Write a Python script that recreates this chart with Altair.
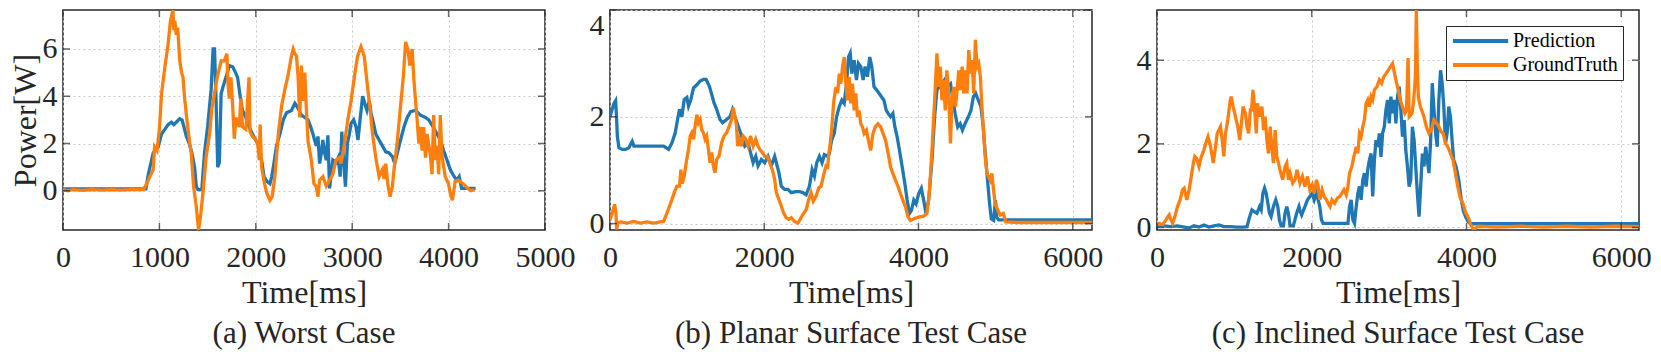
import altair as alt
import pandas as pd

FONT = "Liberation Serif"
INK = "#262626"
SERIES = ["Prediction", "GroundTruth"]
COLORS = ["#1f77b4", "#ff7f0e"]

# ---------------- (a) Worst Case ----------------
a_pred_t = [0, 200, 400, 600, 860, 885, 936, 988, 1022, 1056, 1090, 1125, 1150, 1175, 1211, 1235, 1255, 1280, 1310, 1337,
            1365, 1383, 1400, 1440, 1468, 1500, 1537, 1557, 1572, 1588, 1605, 1622, 1640, 1660, 1691, 1725, 1760, 1790,
            1811, 1838, 1862, 1897, 1931, 1965, 2000, 2030, 2060, 2085, 2115, 2147, 2165, 2182, 2215, 2250, 2285, 2319,
            2370, 2405, 2430, 2450, 2473, 2508, 2542, 2570, 2593, 2610, 2628, 2645, 2662, 2680, 2696, 2714, 2731, 2748,
            2765, 2782, 2799, 2833, 2855, 2875, 2892, 2910, 2930, 2950, 2971, 2988, 3015, 3040, 3060, 3084, 3108, 3130,
            3153, 3177, 3195, 3221, 3245, 3279, 3314, 3348, 3383, 3417, 3441, 3468, 3502, 3537, 3571, 3605, 3657, 3708,
            3760, 3794, 3840, 3880, 3914, 3948, 3983, 4017, 4050, 4085, 4110, 4135, 4200, 4280]
a_pred_v = [0.08, 0.08, 0.08, 0.08, 0.08, 0.7, 1.6, 1.86, 2.4, 2.6, 2.8, 2.9, 2.8, 2.9, 3.05, 3.0, 2.7, 2.3, 2.0, 1.6,
            1.0, 0.17, 0.05, 0.05, 1.6, 2.7, 4.3, 6.0, 6.0, 3.8, 1.0, 1.2, 4.1, 4.4, 4.8, 5.3, 5.25, 5.0,
            4.8, 4.0, 3.4, 3.1, 2.7, 2.4, 2.15, 1.9, 1.3, 0.6, 0.4, 0.3, 0.6, 1.0, 1.9, 2.4, 3.0, 3.3,
            3.4, 3.7, 3.55, 3.4, 3.2, 3.1, 3.0, 2.7, 2.4, 2.15, 1.9, 2.3, 1.15, 1.6, 2.15, 1.6, 1.3, 2.35,
            0.1, 0.7, 1.3, 1.2, 1.4, 0.6, 2.5, 1.3, 0.17, 2.0, 2.4, 2.85, 3.0, 2.7, 2.15, 3.1, 4.0, 3.7,
            3.4, 3.8, 3.3, 2.85, 2.4, 2.15, 1.9, 1.65, 1.6, 1.45, 1.15, 1.6, 2.15, 2.7, 3.1, 3.35, 3.4, 3.2,
            3.1, 3.0, 2.7, 2.4, 2.15, 1.7, 1.3, 0.9, 0.65, 0.45, 0.6, 0.1, 0.1, 0.1]
a_gt_t = [0, 50, 100, 200, 300, 400, 500, 600, 700, 833, 870, 900, 936, 950, 975, 1000, 1022, 1056, 1090, 1115,
          1140, 1150, 1160, 1175, 1190, 1211, 1230, 1245, 1262, 1280, 1297, 1315, 1330, 1355, 1383, 1406, 1430, 1458,
          1485, 1520, 1545, 1571, 1600, 1640, 1674, 1700, 1712, 1725, 1742, 1760, 1777, 1794, 1828, 1845, 1862, 1897,
          1930, 1940, 1965, 2000, 2020, 2035, 2045, 2060, 2090, 2115, 2147, 2170, 2200, 2233, 2268, 2302, 2330, 2353,
          2370, 2388, 2405, 2422, 2439, 2456, 2473, 2490, 2508, 2525, 2542, 2559, 2576, 2603, 2628, 2645, 2662, 2696,
          2731, 2765, 2799, 2833, 2868, 2885, 2920, 2954, 2988, 3022, 3056, 3091, 3125, 3159, 3187, 3211, 3245, 3279,
          3314, 3331, 3348, 3372, 3393, 3417, 3434, 3468, 3502, 3530, 3554, 3578, 3598, 3622, 3640, 3657, 3674, 3691,
          3708, 3725, 3742, 3760, 3777, 3811, 3828, 3845, 3862, 3880, 3897, 3914, 3931, 3965, 3999, 4017, 4040, 4068,
          4100, 4150, 4200, 4230, 4270]
a_gt_v = [0.05, 0.0, 0.05, 0.02, 0.05, 0.03, 0.05, 0.03, 0.05, 0.05, 0.3, 0.6, 0.9, 1.86, 1.7, 2.6, 4.1, 5.2, 6.2, 7.2,
          7.65, 6.8, 7.2, 6.6, 6.9, 5.5, 5.0, 4.8, 3.9, 3.2, 2.6, 2.0, 1.6, 0.17, -0.68, -1.66, -0.96, 0.17,
          1.44, 2.4, 3.5, 4.1, 4.8, 5.5, 5.5, 5.8, 4.5, 3.9, 4.8, 3.6, 2.2, 3.1, 2.7, 3.9, 2.7, 2.6,
          4.8, 2.5, 2.3, 2.15, 2.0, 1.3, 2.8, 1.0, 0.3, -0.1, -0.4, -0.25, 0.7, 2.4, 3.6, 4.3, 4.8, 5.3,
          5.7, 6.0, 5.8, 5.7, 4.8, 3.1, 5.3, 3.8, 5.0, 3.4, 2.1, 1.7, 1.3, 0.3, 0.17, -0.25, 0.45, 0.6,
          0.2, 0.45, 0.7, 1.3, 1.4, 1.15, 2.0, 3.0, 3.8, 4.8, 5.7, 6.1, 5.7, 4.4, 3.4, 2.4, 1.4, 0.6,
          0.9, 0.5, 1.15, 0.2, -0.25, 0.2, 0.9, 2.1, 3.6, 4.8, 6.3, 6.0, 5.3, 6.0, 4.7, 3.8, 3.0, 2.0,
          2.7, 1.7, 2.7, 1.4, 2.4, 1.5, 0.7, 3.2, 1.3, 1.9, 0.7, 3.2, 1.5, 0.6, 0.3, -0.1, -0.4, 0.4,
          0.45, 0.3, 0.1, 0.0, 0.05]

# ---------------- (b) Planar Surface Test Case ----------------
b_pred_t = [0, 30, 52, 73, 86, 95, 116, 159, 202, 245, 288, 310, 352, 438, 524, 610, 696, 760, 803, 846,
            876, 902, 932, 962, 997, 1018, 1048, 1083, 1126, 1168, 1211, 1246, 1289, 1319, 1349, 1383, 1426, 1460,
            1512, 1555, 1589, 1620, 1663, 1706, 1749, 1792, 1822, 1856, 1890, 1920, 1963, 2006, 2049, 2092, 2135,
            2157, 2191, 2221, 2264, 2307, 2350, 2406, 2457, 2500, 2543, 2586, 2621, 2651, 2681, 2715, 2750, 2780,
            2823, 2844, 2873, 2908, 2938, 2973, 3007, 3037, 3067, 3093, 3115, 3136, 3166, 3196, 3222, 3252, 3282,
            3308, 3338, 3368, 3394, 3424, 3458, 3488, 3522, 3552, 3582, 3608, 3638, 3668, 3694, 3724, 3754, 3789,
            3823, 3853, 3883, 3909, 3939, 3969, 4003, 4037, 4067, 4097, 4132, 4175, 4209, 4239, 4269, 4304, 4338,
            4368, 4415, 4449, 4475, 4509, 4540, 4570, 4604, 4647, 4681, 4711, 4741, 4776, 4810, 4840, 4862, 4892,
            4922, 4944, 4975, 4998, 5015, 5040, 5200, 5500, 5800, 6100, 6250]
b_pred_v = [2.0, 2.15, 2.25, 2.3, 1.95, 1.64, 1.42, 1.39, 1.39, 1.42, 1.54, 1.45, 1.45, 1.45, 1.45, 1.45, 1.45, 1.39, 1.51, 1.7,
            1.95, 2.14, 2.0, 2.32, 2.36, 2.2, 2.32, 2.54, 2.6, 2.67, 2.7, 2.7, 2.57, 2.42, 2.26, 2.14, 1.95, 1.89,
            1.95, 2.0, 2.14, 2.0, 1.82, 1.64, 1.45, 1.5, 1.33, 1.14, 1.26, 1.08, 1.2, 1.14, 1.26, 1.08, 1.26,
            1.14, 0.95, 0.7, 0.64, 0.64, 0.58, 0.6, 0.6, 0.58, 0.54, 0.7, 1.01, 0.89, 1.14, 1.26, 1.14, 1.29,
            1.26, 1.31, 1.56, 1.69, 2.0, 2.19, 2.31, 2.25, 2.62, 3.12, 3.19, 2.81, 3.06, 2.69, 3.0, 2.94, 2.69,
            2.94, 2.75, 3.12, 2.94, 2.56, 2.5, 2.44, 2.37, 2.31, 2.12, 2.06, 2.0, 2.06, 1.81, 1.62, 1.37, 1.06,
            0.75, 0.44, 0.19, 0.25, 0.44, 0.37, 0.56, 0.66, 0.44, 0.19, 0.44, 1.19, 2.0, 2.5, 2.56, 2.62, 2.69,
            2.56, 2.62, 2.31, 2.06, 1.81, 1.87, 1.75, 1.87, 2.0, 2.12, 2.37, 2.44, 2.31, 2.19, 1.81, 1.37, 0.87,
            0.37, 0.09, 0.06, 0.44, 0.12, 0.07, 0.07, 0.07, 0.07, 0.07, 0.07]
b_gt_t = [0, 30, 60, 77, 86, 103, 137, 223, 309, 395, 481, 567, 653, 696, 739, 773, 803, 833, 868, 902,
          919, 936, 962, 988, 1018, 1040, 1061, 1083, 1104, 1126, 1147, 1168, 1190, 1211, 1233, 1254, 1276, 1297,
          1319, 1340, 1362, 1383, 1413, 1447, 1478, 1512, 1547, 1577, 1598, 1620, 1641, 1654, 1676, 1706, 1727,
          1761, 1792, 1822, 1856, 1890, 1920, 1942, 1976, 2006, 2036, 2071, 2105, 2135, 2157, 2191, 2221, 2251,
          2285, 2320, 2350, 2393, 2436, 2466, 2500, 2543, 2577, 2607, 2637, 2672, 2707, 2737, 2767, 2801, 2822,
          2835, 2855, 2873, 2903, 2930, 2951, 2973, 2994, 3015, 3037, 3058, 3080, 3101, 3123, 3144, 3166, 3187,
          3209, 3230, 3252, 3273, 3295, 3325, 3350, 3380, 3410, 3441, 3475, 3510, 3540, 3573, 3608, 3638, 3668,
          3703, 3737, 3767, 3797, 3832, 3866, 3896, 3939, 4003, 4067, 4110, 4140, 4175, 4209, 4239, 4260, 4282,
          4304, 4325, 4347, 4368, 4390, 4415, 4437, 4458, 4480, 4501, 4523, 4544, 4566, 4587, 4609, 4630, 4652,
          4673, 4695, 4716, 4738, 4759, 4780, 4802, 4823, 4845, 4866, 4888, 4910, 4931, 4952, 4974, 4995, 5030,
          5060, 5100, 5133, 5300, 5600, 5900, 6250]
b_gt_v = [0.07, 0.2, 0.36, 0.2, -0.11, 0.01, 0.03, 0.01, 0.04, 0.01, 0.03, 0.01, 0.03, 0.04, 0.2, 0.33, 0.45, 0.58, 0.7, 0.7,
          1.01, 0.75, 0.89, 1.14, 1.39, 1.64, 1.7, 1.58, 1.83, 2.04, 1.89, 1.95, 1.76, 1.7, 1.58, 1.64, 1.39, 1.14,
          1.33, 1.08, 0.95, 1.2, 1.26, 1.51, 1.64, 1.7, 1.83, 1.95, 2.17, 2.01, 1.83, 1.45, 1.58, 1.45, 1.64,
          1.58, 1.45, 1.64, 1.45, 1.58, 1.45, 1.39, 1.33, 1.26, 1.26, 1.14, 1.01, 0.83, 0.58, 0.45, 0.33, 0.2,
          0.11, 0.08, 0.11, 0.04, 0.01, 0.08, 0.17, 0.26, 0.45, 0.58, 0.42, 0.51, 0.67, 0.7, 0.89, 1.08, 1.06,
          1.26, 1.5, 1.75, 2.31, 2.56, 2.44, 2.81, 2.62, 2.94, 3.12, 2.62, 2.31, 2.75, 2.25, 2.62, 2.12, 2.44,
          2.0, 2.12, 1.87, 1.81, 1.69, 1.75, 1.56, 1.37, 1.69, 1.81, 1.87, 1.81, 1.69, 1.56, 1.31, 1.06, 0.94,
          0.81, 0.69, 0.56, 0.44, 0.31, 0.12, 0.06, 0.09, 0.12, 0.14, 0.19, 0.56, 1.37, 2.31, 3.19, 2.56, 2.94,
          2.31, 2.69, 2.12, 2.87, 2.44, 1.5, 2.37, 2.56, 2.19, 2.5, 2.87, 2.5, 2.94, 2.44, 2.87, 2.44, 3.25,
          2.81, 3.06, 2.44, 3.44, 2.94, 3.0, 2.75, 2.19, 1.69, 1.25, 0.94, 0.87, 0.81, 0.94, 0.62, 0.37, 0.25,
          0.16, 0.19, 0.03, 0.02, 0.02, 0.02, 0.02]

# ---------------- (c) Inclined Surface Test Case ----------------
c_pred_t = [0, 94, 180, 265, 351, 415, 479, 543, 607, 671, 736, 800, 864, 950, 1035, 1121, 1163, 1198, 1227, 1257,
            1292, 1326, 1347, 1369, 1390, 1411, 1433, 1454, 1475, 1505, 1535, 1561, 1582, 1604, 1634, 1655, 1677,
            1698, 1720, 1762, 1805, 1835, 1848, 1870, 1890, 1912, 1945, 1976, 2006, 2032, 2062, 2083, 2104, 2126,
            2147, 2211, 2297, 2383, 2468, 2489, 2510, 2532, 2553, 2575, 2596, 2617, 2638, 2660, 2681, 2703, 2724,
            2745, 2767, 2788, 2810, 2830, 2852, 2874, 2895, 2916, 2938, 2959, 2980, 3002, 3023, 3045, 3066, 3088,
            3109, 3130, 3152, 3173, 3195, 3216, 3237, 3259, 3280, 3301, 3323, 3344, 3365, 3387, 3408, 3430, 3451,
            3473, 3494, 3515, 3537, 3558, 3580, 3601, 3622, 3643, 3665, 3686, 3707, 3729, 3750, 3771, 3793, 3814,
            3835, 3865, 3900, 3930, 3960, 3990, 4020, 4050, 4300, 4800, 5300, 5800, 6230]
c_pred_v = [0.06, 0.04, 0.02, 0.04, 0.01, -0.01, 0.04, 0.01, 0.06, 0.01, 0.04, 0.06, 0.02, 0.02, 0.01, 0.01, 0.02, 0.26, 0.42, 0.38,
            0.34, 0.5, 0.42, 0.82, 0.94, 0.82, 0.58, 0.34, 0.26, 0.5, 0.66, 0.5, 0.18, 0.04, 0.04, 0.34, 0.5,
            0.34, 0.04, 0.04, 0.34, 0.5, 0.4, 0.3, 0.4, 0.5, 0.66, 0.74, 0.82, 0.66, 0.82, 0.66, 0.5, 0.18,
            0.1, 0.1, 0.1, 0.1, 0.1, 0.5, 0.66, 0.18, 0.1, 0.5, 0.82, 0.98, 0.66, 1.14, 1.3, 0.98, 1.38,
            1.61, 1.77, 0.74, 1.61, 2.09, 1.93, 2.25, 1.69, 2.25, 2.41, 2.81, 3.05, 2.49, 3.13, 2.73, 3.05, 2.49,
            3.13, 3.37, 2.81, 2.17, 2.57, 1.85, 1.46, 0.98, 1.14, 2.41, 2.09, 1.46, 0.82, 0.26, 0.98, 1.77, 1.46,
            1.93, 1.61, 1.3, 2.09, 3.45, 2.81, 2.25, 1.93, 3.05, 3.76, 3.45, 2.89, 2.01, 2.25, 2.89, 2.65, 2.09,
            1.61, 1.46, 1.14, 0.7, 0.4, 0.25, 0.15, 0.09, 0.09, 0.09, 0.09, 0.09, 0.09]
c_gt_t = [0, 30, 73, 115, 158, 180, 201, 231, 265, 299, 329, 351, 385, 415, 436, 470, 488, 513, 543, 573,
          607, 629, 659, 693, 727, 757, 778, 800, 821, 843, 864, 885, 915, 941, 958, 984, 1014, 1044, 1069,
          1087, 1112, 1142, 1163, 1185, 1206, 1223, 1240, 1257, 1283, 1300, 1326, 1356, 1377, 1398, 1420, 1441,
          1463, 1484, 1505, 1527, 1548, 1570, 1600, 1625, 1655, 1677, 1698, 1720, 1754, 1784, 1810, 1848, 1880,
          1912, 1945, 1976, 2006, 2032, 2062, 2083, 2104, 2134, 2160, 2190, 2211, 2237, 2262, 2296, 2331, 2361,
          2391, 2416, 2446, 2468, 2489, 2519, 2544, 2575, 2596, 2617, 2638, 2660, 2681, 2703, 2724, 2745, 2767,
          2788, 2810, 2844, 2874, 2904, 2930, 2959, 2990, 3015, 3045, 3066, 3088, 3118, 3143, 3173, 3203, 3225,
          3245, 3260, 3297, 3318, 3340, 3352, 3365, 3378, 3404, 3451, 3481, 3515, 3545, 3579, 3613, 3643, 3673,
          3699, 3729, 3759, 3793, 3827, 3857, 3887, 3920, 3950, 3990, 4020, 4060, 4093, 4150, 4400, 4700, 5000,
          5300, 5600, 5900, 6230]
c_gt_v = [0.06, 0.1, 0.06, 0.18, 0.3, 0.18, 0.1, 0.26, 0.5, 0.66, 0.9, 0.94, 0.66, 0.9, 1.14, 1.54, 1.7, 1.65, 1.46, 1.7,
          1.85, 2.01, 2.17, 1.93, 1.54, 1.93, 2.25, 2.33, 2.41, 2.09, 1.7, 2.25, 2.57, 2.97, 3.13, 2.89, 2.65, 2.41, 2.09,
          2.41, 2.89, 2.73, 2.41, 2.25, 2.81, 2.81, 3.29, 2.97, 2.25, 2.97, 2.65, 2.89, 2.33, 2.65, 2.09, 1.77,
          2.41, 1.93, 1.54, 2.33, 1.7, 1.54, 1.3, 1.14, 1.46, 1.54, 1.14, 1.3, 1.06, 1.14, 1.38, 1.06, 1.22,
          0.98, 1.22, 0.9, 1.02, 0.82, 1.14, 0.98, 0.66, 0.9, 0.74, 0.66, 0.58, 0.5, 0.66, 0.58, 0.7, 0.74,
          0.82, 0.9, 0.78, 0.98, 1.3, 1.46, 1.69, 1.93, 1.77, 2.25, 2.17, 2.41, 2.57, 2.97, 3.05, 2.89, 3.13,
          3.05, 3.29, 3.37, 3.53, 3.45, 3.6, 3.68, 3.76, 3.84, 3.92, 3.72, 3.53, 3.29, 3.05, 2.89, 2.73, 2.81,
          4.05, 2.65, 2.73, 3.05, 3.6, 5.2, 3.84, 3.13, 2.89, 2.65, 2.41, 2.25, 2.33, 2.57, 2.49, 2.41, 2.29,
          2.25, 2.01, 1.93, 1.77, 1.61, 1.3, 0.98, 0.7, 0.6, 0.35, 0.25, 0.05, -0.05, 0.03, 0.01, 0.03, 0.01,
          0.03, 0.01, 0.03, 0.02]

# axis ticks / domains
a_xticks = [0, 1000, 2000, 3000, 4000, 5000]
a_yticks = [0, 2, 4, 6]
bc_xticks = [0, 2000, 4000, 6000]
bc_yticks = [0, 2, 4]
a_xdomain = [0, 5000]
a_ydomain = [-1.66, 7.65]
b_xdomain = [0, 6250]
b_ydomain = [-0.12, 4.0]
c_xdomain = [0, 6230]
c_ydomain = [-0.06, 5.2]

W = 482
H = 220


def panel(pt, pv, gt, gv, xdom, ydom, xticks, yticks, ytitle, caption, legend, flush_y):
    pred = pd.DataFrame({"t": pt, "v": pv, "series": SERIES[0]})
    truth = pd.DataFrame({"t": gt, "v": gv, "series": SERIES[1]})
    xs = alt.Scale(domain=xdom, nice=False, zero=False)
    ys = alt.Scale(domain=ydom, nice=False, zero=False)
    x = alt.X("t:Q", scale=xs, axis=alt.Axis(values=xticks, title="Time[ms]", format="d"))
    if ytitle:
        yaxis = alt.Axis(values=yticks, title=ytitle, format="d", labelFlush=flush_y)
    else:
        yaxis = alt.Axis(values=yticks, title=None, format="d", labelFlush=flush_y)
    y = alt.Y("v:Q", scale=ys, axis=yaxis)
    if legend is None:
        color = alt.Color("series:N", scale=alt.Scale(domain=SERIES, range=COLORS), legend=None)
    else:
        color = alt.Color("series:N", scale=alt.Scale(domain=SERIES, range=COLORS), legend=legend)
    l1 = alt.Chart(pred).mark_line(strokeWidth=3.3, clip=True).encode(x=x, y=y, color=color)
    l2 = alt.Chart(truth).mark_line(strokeWidth=3.3, clip=True).encode(x=x, y=y, color=color)
    ydf = pd.DataFrame({"v": yticks})
    xdf = pd.DataFrame({"t": xticks})
    tk = dict(color=INK, thickness=1.5, size=7)
    yl = alt.Chart(ydf).mark_tick(**tk).encode(y=alt.Y("v:Q", scale=ys), x=alt.value(3.5))
    yr = alt.Chart(ydf).mark_tick(**tk).encode(y=alt.Y("v:Q", scale=ys), x=alt.value(W - 3.5))
    xb = alt.Chart(xdf).mark_tick(**tk).encode(x=alt.X("t:Q", scale=xs), y=alt.value(H - 3.5))
    xt = alt.Chart(xdf).mark_tick(**tk).encode(x=alt.X("t:Q", scale=xs), y=alt.value(3.5))
    return alt.layer(l1, l2, yl, yr, xb, xt).properties(
        width=W, height=H,
        title=alt.TitleParams(text=caption, orient="bottom", anchor="middle"),
    )


leg = alt.Legend(
    title=None, orient="none", legendX=289, legendY=16,
    symbolType="M-1,0H5.9", symbolStrokeWidth=4, symbolSize=256,
    labelFont=FONT, labelFontSize=20, labelColor="black",
    strokeColor=INK, fillColor="white", padding=5, rowPadding=4, labelOffset=42,
)

pa = panel(a_pred_t, a_pred_v, a_gt_t, a_gt_v, a_xdomain, a_ydomain, a_xticks, a_yticks,
           "Power[W]", "(a) Worst Case", None, False)
pb = panel(b_pred_t, b_pred_v, b_gt_t, b_gt_v, b_xdomain, b_ydomain, bc_xticks, bc_yticks,
           "", "(b) Planar Surface Test Case", None, True)
pc = panel(c_pred_t, c_pred_v, c_gt_t, c_gt_v, c_xdomain, c_ydomain, bc_xticks, bc_yticks,
           "", "(c) Inclined Surface Test Case", leg, False)

chart = alt.hconcat(pa, pb, pc, spacing=65, bounds="flush").resolve_scale(
    color="independent"
).properties(
    padding={"left": 0, "top": 0, "right": 0, "bottom": 0}
).configure_axis(
    labelFont=FONT, labelFontSize=30, labelColor=INK,
    titleFont=FONT, titleFontSize=32, titleFontWeight="normal", titleColor=INK,
    domain=False, ticks=False, grid=True, gridColor="#c8c8c8", gridDash=[2, 3], gridWidth=1,
).configure_axisX(
    labelPadding=12, titlePadding=5, labelFlush=False,
).configure_axisY(
    labelPadding=6, titlePadding=0,
).configure_view(
    stroke=INK, strokeWidth=1.5,
).configure_legend(
    labelFont=FONT, labelFontSize=20, labelColor="black",
).configure_title(
    font=FONT, fontSize=31, fontWeight="normal", color=INK, offset=11,
)

chart.save("out.html", embed_options={"renderer": "svg", "actions": False})
